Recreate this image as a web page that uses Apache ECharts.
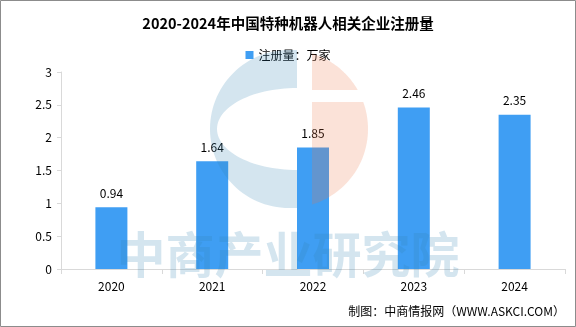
<!DOCTYPE html>
<html><head><meta charset="utf-8">
<script src="https://cdn.jsdelivr.net/npm/echarts@6/dist/echarts.min.js"></script>
<style>html,body{margin:0;padding:0;background:#fff}#c{width:576px;height:327px}</style>
</head><body><div id="c"></div>
<script>
const categories = ['2020','2021','2022','2023','2024'];
const values = [0.94, 1.64, 1.85, 2.46, 2.35];
const seriesName = '注册量：万家';
const titleText = '2020-2024年中国特种机器人相关企业注册量';
const sourceText = '制图：中商情报网（WWW.ASKCI.COM）';
const watermarkText = '中商产业研究院';
const FONT = '"Noto Sans CJK SC", sans-serif';

// decorative watermark logo outline
function arcPts(cx, cy, rx, ry, a0, a1, n) {
  const pts = [];
  for (let i = 0; i <= n; i++) {
    const a = (a0 + (a1 - a0) * i / n) * Math.PI / 180;
    pts.push([cx + rx * Math.cos(a), cy + ry * Math.sin(a)]);
  }
  return pts;
}
const bluePts = [[297,50]].concat(arcPts(289,129,79,79,270,90,60), [[297,208]], arcPts(297,129,80,41,90,270,60));
function circleAtY(y){ return Math.asin((y-129)/79)*180/Math.PI; }
const aTopStart = -Math.acos((312-289)/79)*180/Math.PI;
const orangeTop = arcPts(289,129,79,79,aTopStart,circleAtY(90),30).concat([[312,90]]);
const orangeBot = [[312,102]].concat(arcPts(289,129,79,79,circleAtY(102),-aTopStart,40));

const chart = echarts.init(document.getElementById('c'), null, {renderer:'canvas'});
chart.setOption({
  animation:false,
  backgroundColor:'#fff',
  title:{text:titleText,left:'center',top:11,textStyle:{fontFamily:FONT,fontSize:14.5,fontWeight:'bold',color:'#000'}},
  legend:{data:[seriesName],top:44,left:'center',itemWidth:8,itemHeight:8,itemGap:6,icon:'rect',
    textStyle:{fontFamily:FONT,fontSize:12,color:'#000'}},
  grid:{left:61,right:11,top:72,bottom:58,containLabel:false},
  xAxis:{type:'category',data:categories,boundaryGap:true,
    axisLine:{lineStyle:{color:'#d9d9d9'}},
    axisTick:{show:true,length:5,lineStyle:{color:'#d9d9d9'}},
    axisLabel:{fontFamily:FONT,fontSize:12,color:'#000',margin:11}},
  yAxis:{type:'value',min:0,max:3,interval:0.5,
    axisLine:{show:true,lineStyle:{color:'#d9d9d9'}},
    axisTick:{show:true,length:4,lineStyle:{color:'#d9d9d9'}},
    splitLine:{show:false},
    axisLabel:{fontFamily:FONT,fontSize:12,color:'#000',margin:9}},
  series:[{name:seriesName,type:'bar',data:values,barWidth:32,
    itemStyle:{color:'#3f9ef3'},
    label:{show:true,position:'top',distance:8,fontFamily:FONT,fontSize:12,color:'#000'}}],
  graphic:[
    {type:'polygon',z:100,silent:true,shape:{points:bluePts},style:{fill:'rgba(50,130,180,0.21)'}},
    {type:'polygon',z:100,silent:true,shape:{points:orangeTop},style:{fill:'rgba(236,120,70,0.21)'}},
    {type:'polygon',z:100,silent:true,shape:{points:orangeBot},style:{fill:'rgba(236,120,70,0.21)'}},
    {type:'text',z:100,silent:true,left:'center',top:230,
      style:{text:watermarkText,fontFamily:FONT,fontSize:49,fontWeight:'bold',fill:'rgba(50,130,180,0.21)'}},
    {type:'text',right:11,top:305,style:{text:sourceText,fontFamily:FONT,fontSize:12,fill:'#000'}},
    {type:'rect',z:200,silent:true,shape:{x:0.5,y:0.5,width:575,height:326},style:{fill:null,stroke:'#8c8c8c',lineWidth:1}}
  ]
});
</script></body></html>
